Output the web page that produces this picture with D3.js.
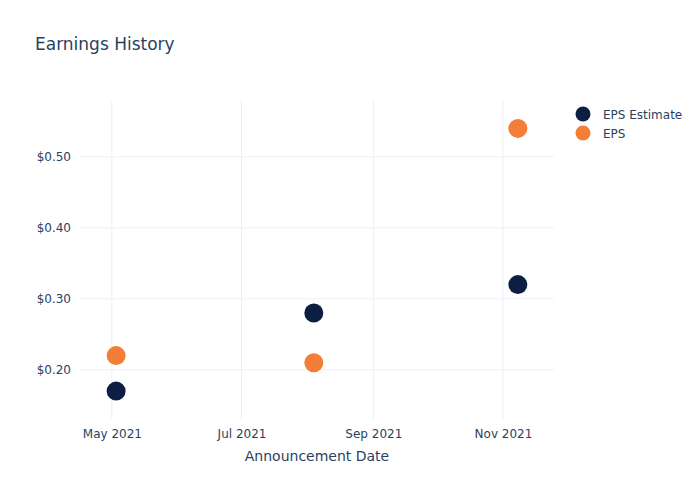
<!DOCTYPE html>
<html>
<head>
<meta charset="utf-8">
<script src="https://cdn.jsdelivr.net/npm/d3@7"></script>
<style>
  body { margin: 0; background: #fff; }
  text { font-family: "DejaVu Sans", Verdana, sans-serif; }
</style>
</head>
<body>
<svg id="chart" width="700" height="500"></svg>
<script>
const dates = ["2021-05-03", "2021-08-04", "2021-11-08"];
const epsEstimate = [0.17, 0.28, 0.32];
const epsActual = [0.22, 0.21, 0.54];
const seriesNames = ["EPS Estimate", "EPS"];
const seriesColors = ["#0c1f42", "#f47d37"];
const xTicks = ["2021-05-01", "2021-07-01", "2021-09-01", "2021-11-01"];
const yTicks = [0.20, 0.30, 0.40, 0.50];

const parse = d3.timeParse("%Y-%m-%d");
const svg = d3.select("#chart");
const m = {l: 80, r: 146, t: 100, b: 80};
const W = 700, H = 500;

const x = d3.scaleTime()
  .domain([parse("2021-04-16"), parse("2021-11-25")])
  .range([m.l, W - m.r]);
const y = d3.scaleLinear()
  .domain([0.1293, 0.58])
  .range([H - m.b, m.t]);

const textColor = "#2a3f5f";
const gridColor = "#ebf0f8";

// grid
svg.append("g").selectAll("line").data(xTicks).join("line")
  .attr("x1", d => x(parse(d))).attr("x2", d => x(parse(d)))
  .attr("y1", m.t).attr("y2", H - m.b)
  .attr("stroke", gridColor).attr("stroke-width", 1);
svg.append("g").selectAll("line").data(yTicks).join("line")
  .attr("x1", m.l).attr("x2", W - m.r)
  .attr("y1", d => y(d)).attr("y2", d => y(d))
  .attr("stroke", gridColor).attr("stroke-width", 1);

// axes (labels only, Plotly style)
const fmtDate = d3.timeFormat("%b %Y");
const xAxis = d3.axisBottom(x).tickValues(xTicks.map(parse)).tickFormat(fmtDate).tickSize(0).tickPadding(9);
const gx = svg.append("g").attr("transform", `translate(0,${H - m.b})`).call(xAxis);
gx.select(".domain").remove();
gx.selectAll("text").attr("fill", textColor).style("font-size", "12px");

const yAxis = d3.axisLeft(y).tickValues(yTicks).tickFormat(d => "$" + d3.format(".2f")(d)).tickSize(0).tickPadding(9);
const gy = svg.append("g").attr("transform", `translate(${m.l},0)`).call(yAxis);
gy.select(".domain").remove();
gy.selectAll("text").attr("fill", textColor).style("font-size", "12px");

// points
const series = [epsEstimate, epsActual];
series.forEach((vals, si) => {
  svg.append("g").selectAll("circle").data(vals).join("circle")
    .attr("cx", (d, i) => x(parse(dates[i])))
    .attr("cy", d => y(d))
    .attr("r", 9.5)
    .attr("fill", seriesColors[si]);
});

// title
svg.append("text").attr("x", 35).attr("y", 50)
  .attr("fill", textColor).style("font-size", "17px").text("Earnings History");

// x axis title
svg.append("text").attr("x", (m.l + W - m.r) / 2).attr("y", 461)
  .attr("text-anchor", "middle").attr("fill", textColor)
  .style("font-size", "14px").text("Announcement Date");

// legend
const lg = svg.append("g");
seriesNames.forEach((name, i) => {
  const yy = 114 + i * 19;
  lg.append("circle").attr("cx", 583).attr("cy", yy).attr("r", 7.5).attr("fill", seriesColors[i]);
  lg.append("text").attr("x", 603).attr("y", yy + 4.5)
    .attr("fill", textColor).style("font-size", "12px").text(name);
});
</script>
</body>
</html>
